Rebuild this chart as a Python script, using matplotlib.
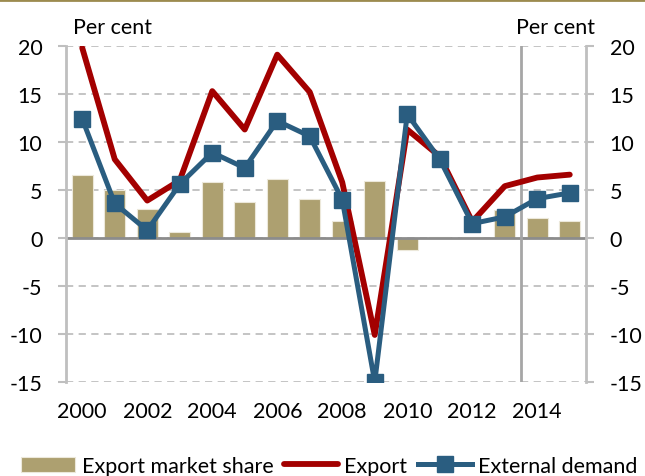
import matplotlib
matplotlib.use('Agg')
import matplotlib.pyplot as plt
from matplotlib.lines import Line2D

plt.rcParams['font.family'] = ['Lato', 'DejaVu Sans']
plt.rcParams['axes.unicode_minus'] = False

years = list(range(2000, 2016))
market_share = [6.6, 5.0, 3.0, 0.65, 5.8, 3.8, 6.15, 4.1, 1.8, 5.9, -1.3, 0.15, 0.15, 2.95, 2.1, 1.8]
export = [19.8, 8.2, 3.9, 6.0, 15.3, 11.3, 19.1, 15.2, 5.8, -10.1, 11.3, 8.5, 1.7, 5.4, 6.3, 6.6]
ext_demand = [12.4, 3.6, 0.8, 5.6, 8.9, 7.3, 12.2, 10.6, 4.0, -15.0, 12.9, 8.2, 1.5, 2.2, 4.1, 4.7]
xtick_years = list(range(2000, 2016, 2))
yticks = [-15, -10, -5, 0, 5, 10, 15, 20]

tan = '#ADA070'
red = '#A30000'
blue = '#2A5D80'
grey = '#BFBFBF'
fs = 15.5

fig = plt.figure(figsize=(6.45, 4.77), dpi=100)
ax = fig.add_axes([66/645, 1 - 383/477, 520/645, 336/477])

ax.set_axisbelow(True)
ax.yaxis.grid(True, color=grey, linestyle=(0, (4, 3)), linewidth=1.3)
bars = ax.bar(years, market_share, width=0.66, color=tan, edgecolor='#ECE8DA',
              linewidth=0.8, zorder=2, label='Export market share')
ax.axhline(0, color='#8C8C8C', linewidth=2, zorder=2.5)
ax.axvline(2013.5, color='#A6A6A6', linewidth=2, zorder=2.5)
l_exp, = ax.plot(years, export, color=red, linewidth=4.2, solid_capstyle='round',
                 zorder=3, label='Export')
l_dem, = ax.plot(years, ext_demand, color=blue, linewidth=3.6, marker='s', markersize=11,
                 markeredgecolor=blue, zorder=4, label='External demand')

ax.set_xlim(1999.5, 2015.5)
ax.set_ylim(-15, 20)
ax.set_yticks(yticks)
ax.set_xticks(xtick_years)
ax.tick_params(axis='x', length=0, pad=14, labelsize=fs)
ax.tick_params(axis='y', direction='out', length=6, width=1.5, color=grey,
               labelsize=fs, pad=11, left=True, right=True, labelleft=True, labelright=True)
for s in ['top', 'bottom']:
    ax.spines[s].set_visible(False)
for s in ['left', 'right']:
    ax.spines[s].set_color(grey)
    ax.spines[s].set_linewidth(2)

fig.text(73/645, 1 - 34/477, 'Per cent', fontsize=fs, ha='left', va='baseline')
fig.text(595/645, 1 - 34/477, 'Per cent', fontsize=fs, ha='right', va='baseline')

fig.add_artist(Line2D([0, 1], [0.998, 0.998], transform=fig.transFigure,
                      color='#9C8B4F', linewidth=2))

fig.legend(handles=[bars, l_exp, l_dem], loc='center', bbox_to_anchor=(0.511, 0.021),
           ncol=3, frameon=False, fontsize=fs, handlelength=2.5, handletextpad=0.3,
           columnspacing=0.5, borderaxespad=0, borderpad=0)

fig.savefig('out.png', dpi=100)
